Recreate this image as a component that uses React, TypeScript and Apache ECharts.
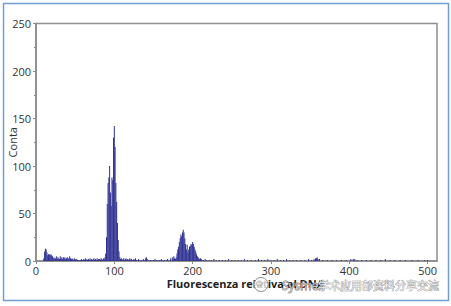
import React, { useEffect, useRef } from "react";
import * as echarts from "echarts";

// Histogram of relative DNA fluorescence (channels 0–512)
const debrisStart = 10;
const debrisCounts = [
  3, 10, 13, 12, 9, 6, 7, 7, 6, 7, 6, 5, 3, 4, 2, 3, 5, 2, 4, 3, 2, 5, 3, 4, 2, 4, 3, 4, 2, 3,
  4, 2, 3, 5, 3, 2, 3, 2, 1, 3, 2, 1, 2, 1, 1, 0, 1, 1, 2, 1, 1, 2, 1, 3, 1, 2, 1, 2, 1, 3,
  1, 2, 1, 2, 3, 1, 2, 1, 3, 1, 2, 2, 1, 3, 2, 1, 3, 2, 4, 8,
];
const g1Start = 90;
const g1Counts = [25, 60, 82, 88, 100, 72, 58, 88, 85, 130, 142, 120, 82, 62, 40, 22, 10, 4, 2];
const midChannels = [
  109, 110, 111, 112, 113, 114, 115, 116, 117, 118, 119, 120, 121, 122, 123, 124, 125, 126, 127, 128,
  130, 131, 133, 135, 137, 138, 140, 141, 142, 144, 146, 148, 150, 152, 154, 156, 158, 160, 162, 164,
  166, 168, 170, 172, 174, 175, 176, 177, 178,
];
const midCounts = [
  3, 1, 2, 3, 1, 2, 3, 1, 2, 1, 2, 3, 1, 2, 1, 1, 2, 1, 3, 1,
  1, 2, 1, 1, 2, 1, 3, 4, 2, 1, 1, 1, 1, 2, 1, 1, 1, 2, 1, 1,
  1, 2, 1, 3, 4, 2, 5, 3, 2,
];
const g2Start = 179;
const g2Counts = [
  4, 8, 12, 15, 20, 24, 28, 26, 30, 33, 30, 24, 18, 12, 17, 9, 12, 15, 16, 18,
  17, 20, 18, 15, 12, 10, 7, 5, 4, 3, 2, 3, 2, 1,
];
const tailChannels = [
  214, 216, 218, 221, 224, 227, 230, 234, 238, 242, 246, 250, 254, 258, 262, 266, 270, 275, 280, 284,
  288, 292, 296, 300, 304, 308, 312, 316, 320, 324, 328, 333, 338, 343, 348, 352, 355, 357, 358, 359,
  360, 362, 366, 372, 378, 384, 390, 396, 402, 405, 407, 410, 416, 422, 428, 434, 440, 446, 452, 458,
  465, 472, 480, 488, 496, 500,
];
const tailCounts = [
  1, 2, 1, 1, 1, 2, 1, 1, 1, 1, 2, 1, 1, 1, 1, 2, 1, 1, 1, 2,
  1, 1, 2, 1, 1, 2, 1, 1, 2, 1, 1, 1, 1, 1, 2, 1, 2, 3, 3, 4,
  2, 2, 1, 1, 1, 1, 1, 1, 2, 2, 2, 1, 1, 1, 1, 1, 1, 2, 1, 1,
  1, 1, 1, 1, 1, 1,
];
const xTicks = [0, 100, 200, 300, 400, 500];
const yTicks = [0, 50, 100, 150, 200, 250];

const xTitle = "Fluorescenza relativa al DNA";
const yTitle = "Conta";
const watermarkLatin = "Sysmex";
const watermarkCjk = "学术应用部资料分享交流";

function buildData(): [number, number][] {
  const out: [number, number][] = [];
  debrisCounts.forEach((c, i) => c > 0 && out.push([debrisStart + i, c]));
  g1Counts.forEach((c, i) => out.push([g1Start + i, c]));
  midChannels.forEach((ch, i) => out.push([ch, midCounts[i]]));
  g2Counts.forEach((c, i) => out.push([g2Start + i, c]));
  tailChannels.forEach((ch, i) => out.push([ch, tailCounts[i]]));
  return out;
}

const FONT = "'Open Sans', 'Noto Sans', sans-serif";

export default function App() {
  const ref = useRef<HTMLDivElement>(null);
  useEffect(() => {
    document.body.style.margin = "0";
    if (!ref.current) return;
    const chart = echarts.init(ref.current, null, { renderer: "svg" });
    chart.setOption({
      animation: false,
      backgroundColor: "#ffffff",
      grid: {
        left: 36,
        top: 23.5,
        right: 14,
        bottom: 45,
        show: true,
        borderColor: "#8f8f8f",
        borderWidth: 1.5,
        containLabel: false,
        outerBoundsMode: "none",
      },
      xAxis: {
        type: "value",
        min: 0,
        max: 512,
        interval: 100,
        name: xTitle,
        nameLocation: "middle",
        nameGap: 17,
        nameMoveOverlap: false,
        nameTextStyle: {
          fontFamily: FONT,
          fontSize: 11,
          fontWeight: "bold",
          color: "#222",
          padding: [0, 0, 0, 18],
        },
        axisLine: { show: true, lineStyle: { color: "#8a8a8a", width: 1.5 } },
        axisTick: { show: true, length: 3, lineStyle: { color: "#8a8a8a" } },
        splitLine: { show: false },
        axisLabel: {
          showMaxLabel: false,
          margin: 4,
          fontFamily: FONT,
          fontSize: 11,
          color: "#333",
          formatter: (v: number) => (xTicks.includes(v) ? String(v) : ""),
        },
      },
      yAxis: {
        type: "value",
        min: 0,
        max: 250,
        interval: 50,
        name: yTitle,
        nameLocation: "middle",
        nameGap: 18,
        nameMoveOverlap: false,
        nameTextStyle: { fontFamily: FONT, fontSize: 11, color: "#333" },
        axisLine: { show: true, lineStyle: { color: "#8a8a8a", width: 1.5 } },
        axisTick: { show: true, length: 3, lineStyle: { color: "#8a8a8a" } },
        minorTick: { show: true, splitNumber: 2, length: 2, lineStyle: { color: "#8a8a8a" } },
        splitLine: { show: false },
        axisLabel: {
          margin: 5,
          fontFamily: FONT,
          fontSize: 11,
          color: "#333",
          formatter: (v: number) => (yTicks.includes(v) ? String(v) : ""),
        },
      },
      series: [
        {
          type: "bar",
          data: buildData(),
          barWidth: 1,
          itemStyle: { color: "#2e3192" },
          silent: true,
        },
      ],
      graphic: [
        {
          type: "rect",
          shape: { x: 3.5, y: 3.5, width: 445, height: 297 },
          style: { fill: "none", stroke: "#6f9fd2", lineWidth: 1.5 },
          silent: true,
        },
        {
          type: "circle",
          shape: { cx: 261, cy: 284.5, r: 7 },
          style: { fill: "rgba(255,255,255,0.75)", stroke: "#8a8a8a", lineWidth: 1 },
          silent: true,
          z: 100,
        },
        {
          type: "ellipse",
          shape: { cx: 259.5, cy: 283.5, rx: 3, ry: 2.4 },
          style: { fill: "none", stroke: "#9a9a9a", lineWidth: 0.8 },
          silent: true,
          z: 101,
        },
        {
          type: "text",
          x: 282,
          y: 285,
          style: {
            text: watermarkLatin,
            font: "12px 'Open Sans', sans-serif",
            fill: "rgba(255,255,255,0.6)",
            stroke: "#6a6a6a",
            lineWidth: 0.8,
            verticalAlign: "middle",
            align: "left",
          },
          silent: true,
          z: 100,
        },
        {
          type: "text",
          x: 318,
          y: 285,
          style: {
            text: watermarkCjk,
            font: "11px 'Noto Sans CJK SC', sans-serif",
            fill: "rgba(255,255,255,0.85)",
            stroke: "#8a8a8a",
            lineWidth: 0.7,
            verticalAlign: "middle",
            align: "left",
          },
          silent: true,
          z: 100,
        },
      ],
    });
    return () => chart.dispose();
  }, []);
  return <div ref={ref} style={{ width: 451, height: 306 }} />;
}
